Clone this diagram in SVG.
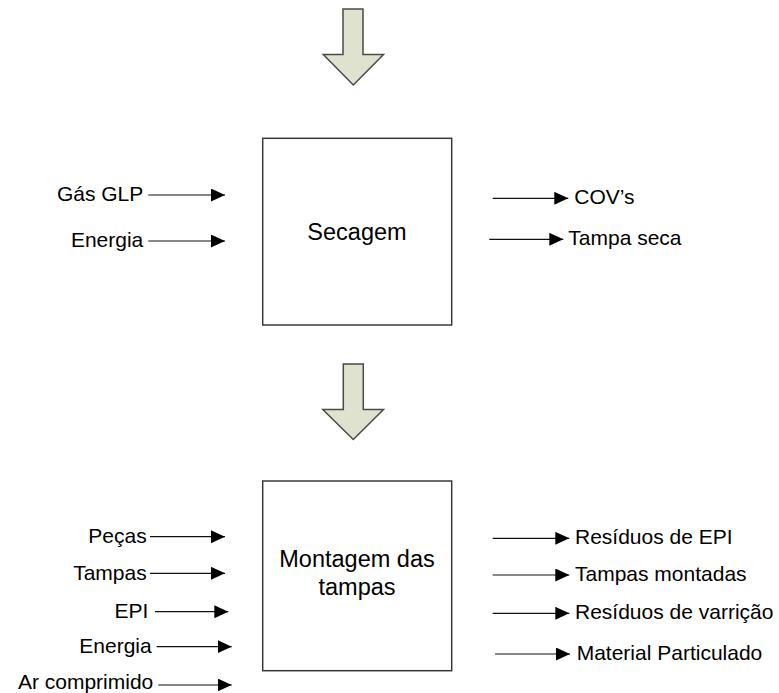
<svg xmlns="http://www.w3.org/2000/svg" width="779" height="693" viewBox="0 0 779 693">
<style>
.lbl{font-family:"Liberation Sans",Arial,sans-serif;font-size:21px;fill:#000}
.big{font-family:"Liberation Sans",Arial,sans-serif;font-size:23.5px;fill:#000;text-anchor:middle}
.end{text-anchor:end}
.box{fill:#fff;stroke:#3a3a3a;stroke-width:1.5}
.blk{fill:#dfe2cf;stroke:#4a4a4a;stroke-width:1.5;stroke-linejoin:miter}
.con{stroke:#111;stroke-width:1.2;fill:none;marker-end:url(#ah)}
</style>
<defs>
<marker id="ah" markerUnits="userSpaceOnUse" markerWidth="15" markerHeight="14" refX="14" refY="6.5" orient="auto">
<path d="M0,0 L14,6.5 L0,13 z" fill="#000"/>
</marker>
</defs>
<g id="flow-arrow-top">
<polygon class="blk" points="343,9 363,9 363,54.5 383.5,54.5 353.3,85 323.3,54.5 343,54.5"/>
</g>
<g id="flow-arrow-mid">
<polygon class="blk" points="343.3,364 363.3,364 363.3,409.5 383.5,409.5 353.3,439.5 322.8,409.5 343.3,409.5"/>
</g>
<g id="secagem">
<rect class="box" x="262.7" y="138.3" width="189" height="186.7"/>
<text class="big" x="357" y="240">Secagem</text>
</g>
<g id="montagem">
<rect class="box" x="262.7" y="481" width="189" height="189.7"/>
<text class="big" x="357" y="567">Montagem das</text>
<text class="big" x="357" y="595">tampas</text>
</g>
<g id="labels">
<text class="lbl end" x="143.3" y="201">Gás GLP</text>
<text class="lbl end" x="143.3" y="247">Energia</text>
<text class="lbl" x="574.3" y="204">COV’s</text>
<text class="lbl" x="568.3" y="245">Tampa seca</text>
<text class="lbl end" x="146.7" y="543">Peças</text>
<text class="lbl end" x="146.7" y="580">Tampas</text>
<text class="lbl end" x="148.3" y="618">EPI</text>
<text class="lbl end" x="151.7" y="653">Energia</text>
<text class="lbl end" x="153.3" y="689">Ar comprimido</text>
<text class="lbl" x="575" y="544">Resíduos de EPI</text>
<text class="lbl" x="575" y="581">Tampas montadas</text>
<text class="lbl" x="575" y="619">Resíduos de varrição</text>
<text class="lbl" x="576.7" y="660">Material Particulado</text>
</g>
<g id="connectors">
<line class="con" x1="148.3" y1="195" x2="225" y2="195"/>
<line class="con" x1="148.3" y1="241" x2="225" y2="241"/>
<line class="con" x1="492.7" y1="198.3" x2="568.3" y2="198.3"/>
<line class="con" x1="489.3" y1="239.3" x2="563.3" y2="239.3"/>
<line class="con" x1="150" y1="536.7" x2="225" y2="536.7"/>
<line class="con" x1="150" y1="573.3" x2="225" y2="573.3"/>
<line class="con" x1="155" y1="611.7" x2="228.3" y2="611.7"/>
<line class="con" x1="156.7" y1="646.7" x2="231.7" y2="646.7"/>
<line class="con" x1="158.3" y1="685" x2="231.7" y2="685"/>
<line class="con" x1="492.7" y1="538.3" x2="569.3" y2="538.3"/>
<line class="con" x1="492.7" y1="575" x2="569.3" y2="575"/>
<line class="con" x1="492.7" y1="613.3" x2="569.3" y2="613.3"/>
<line class="con" x1="495" y1="654" x2="570" y2="654"/>
</g>
</svg>
